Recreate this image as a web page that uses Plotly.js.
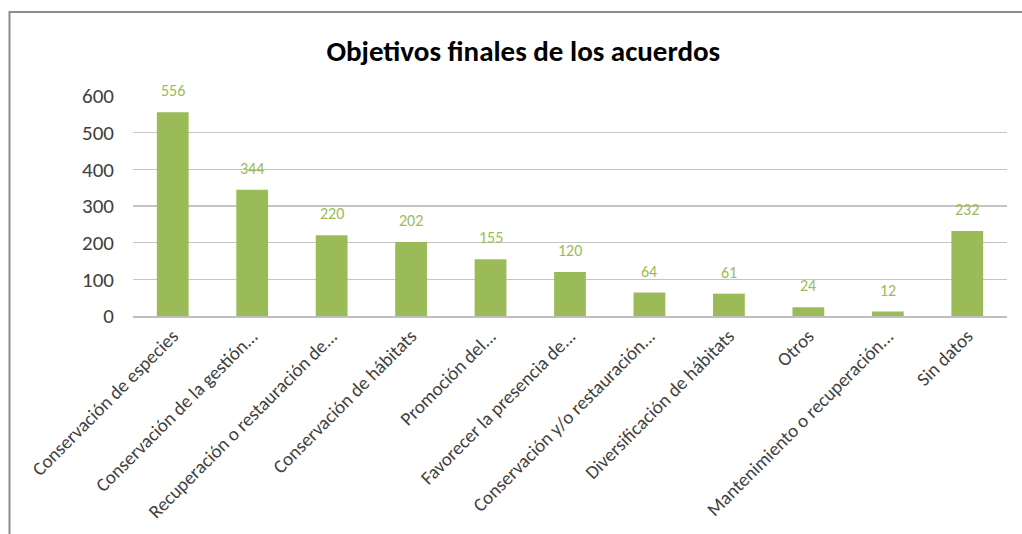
<!DOCTYPE html>
<html><head><meta charset="utf-8">
<script src="https://cdn.plot.ly/plotly-3.0.1.min.js"></script>
<style>html,body{margin:0;padding:0;background:#fff;}#c{width:1022px;height:534px;}</style>
</head><body><div id="c"></div>
<script>
const categories = ["Conservación de especies","Conservación de la gestión...","Recuperación o restauración de...","Conservación de hábitats","Promoción del...","Favorecer la presencia de...","Conservación y/o restauración...","Diversificación de hábitats","Otros","Mantenimiento o recuperación...","Sin datos"];
const values = [556,344,220,202,155,120,64,61,24,12,232];
const yTicks = [0,100,200,300,400,500,600];

const green = '#9BBB59';
const font = 'Carlito, Calibri, "Open Sans", "Noto Sans", sans-serif';

const annotations = categories.map((c,i)=>({
  x: c, y: values[i], xref:'x', yref:'y', text: String(values[i]),
  showarrow:false, yanchor:'bottom', yshift:10,
  font:{family:font, size:16, color:green}
}));

const data = [{
  type:'bar', x:categories, y:values,
  marker:{color:green}, hoverinfo:'none'
}];

const layout = {
  width:1022, height:534,
  margin:{l:133, r:15, t:96, b:218},
  paper_bgcolor:'#fff', plot_bgcolor:'#fff',
  bargap:0.6,
  showlegend:false,
  title:{text:'<b>Objetivos finales de los acuerdos</b>', x:0.512, xanchor:'center', y:0.905, yanchor:'middle',
         font:{family:font, size:29, color:'#000'}},
  xaxis:{type:'category', tickangle:-45, showgrid:false, showline:true, linecolor:'#bfbfbf', linewidth:1.5,
         ticks:'', tickfont:{family:font, size:19, color:'#404040'}, automargin:false},
  yaxis:{range:[0,600], tickvals:yTicks, showgrid:true, gridcolor:'#c4c4c4', gridwidth:1.5, zeroline:false,
         showline:false, ticks:'', ticklabelstandoff:18,
         tickfont:{family:font, size:21, color:'#404040'}, automargin:false},
  annotations: annotations,
  shapes:[{type:'rect', xref:'paper', yref:'paper', x0:-0.1413, x1:1.03, y0:-1.2, y1:1.382,
           line:{color:'#8c8c8c', width:2}, fillcolor:'rgba(0,0,0,0)', layer:'below'}]
};
Plotly.newPlot('c', data, layout, {displayModeBar:false, staticPlot:true});
</script></body></html>
